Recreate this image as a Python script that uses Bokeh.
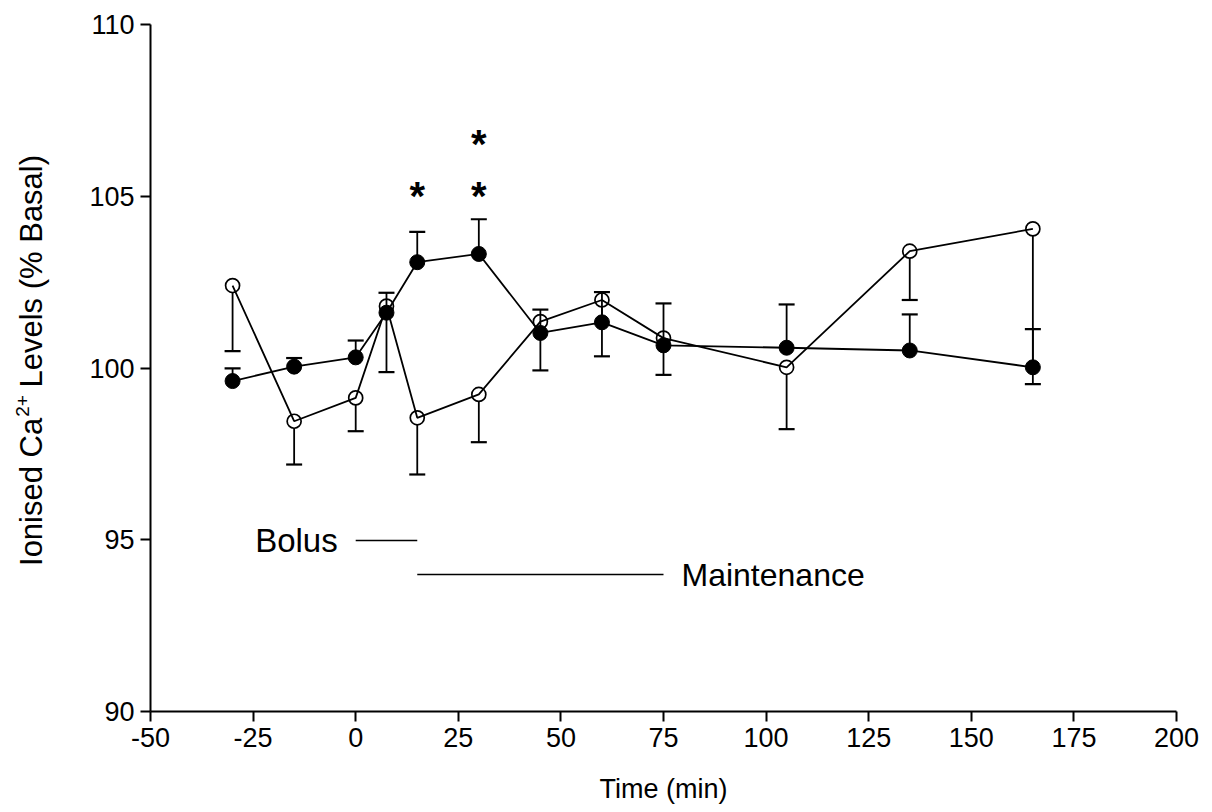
import math
from bokeh.plotting import figure
from bokeh.layouts import row
from bokeh.models import Range1d, FixedTicker
from bokeh.core.properties import value
from bokeh.embed import file_html
from bokeh.resources import INLINE

# ---------------- data ----------------
time_min = [-30, -15, 0, 7.5, 15, 30, 45, 60, 75, 105, 135, 165]
open_mean = [102.40, 98.45, 99.13, 101.80, 98.55, 99.23, 101.35, 101.98, 100.87, 100.02, 103.40, 104.05]
open_err_down = [1.91, 1.26, 0.97, 1.92, 1.65, 1.39, 1.42, 1.64, 1.07, 1.80, 1.42, 4.52]
filled_mean = [99.62, 100.04, 100.31, 101.61, 103.08, 103.32, 101.02, 101.33, 100.66, 100.59, 100.51, 100.02]
filled_err_up = [0.37, 0.25, 0.49, 0.58, 0.88, 1.01, 0.68, 0.88, 1.22, 1.26, 1.05, 1.11]

x_ticks = [-50, -25, 0, 25, 50, 75, 100, 125, 150, 175, 200]
y_ticks = [90, 95, 100, 105, 110]

star_times = [15, 30, 30]
bolus_period = [0, 15]
maintenance_period = [15, 75]

# ---------------- layout ----------------
W, H = 1212, 812
LW = 80                      # width of the strip holding the y title
FL, FR, FT, FB = 150, 1176, 24, 711
X0, X1 = -50, 200
Y0, Y1 = 90, 110
FONT = "Liberation Sans"


def px2y(py):
    return Y1 - (py - FT) / (FB - FT) * (Y1 - Y0)


p = figure(width=W - LW, height=H, x_range=Range1d(X0, X1), y_range=Range1d(Y0, Y1),
           output_backend="svg", toolbar_location=None, title=None,
           min_border_left=FL - LW, min_border_right=W - FR,
           min_border_top=FT, min_border_bottom=H - FB)
p.outline_line_color = None
p.background_fill_color = "white"
p.border_fill_color = "white"
p.xgrid.visible = False
p.ygrid.visible = False

for ax, ticks in ((p.xaxis, x_ticks), (p.yaxis, y_ticks)):
    ax.ticker = FixedTicker(ticks=ticks)
    ax.major_label_overrides = {t: str(t) for t in ticks}
    ax.major_label_text_font = FONT
    ax.major_label_text_font_size = "27px"
    ax.major_label_text_color = "black"
    ax.axis_line_color = "black"
    ax.axis_line_width = 2
    ax.major_tick_line_color = "black"
    ax.major_tick_line_width = 2
    ax.major_tick_out = 10
    ax.major_tick_in = 0
    ax.minor_tick_out = 0
    ax.minor_tick_in = 0
    ax.major_label_standoff = 6

p.xaxis.axis_label = "Time (min)"
p.xaxis.axis_label_text_font = FONT
p.xaxis.axis_label_text_font_size = "27px"
p.xaxis.axis_label_text_font_style = "normal"
p.xaxis.axis_label_text_color = "black"
p.xaxis.axis_label_standoff = 24

LWID = 1.8
# ---------------- open series ----------------
open_lo = [m - e for m, e in zip(open_mean, open_err_down)]
p.segment(x0=time_min, y0=open_mean, x1=time_min, y1=open_lo, line_color="black", line_width=LWID)
p.scatter(time_min, open_lo, marker="dash", size=16, line_color="black", line_width=2.2)
p.scatter(time_min, open_mean, marker="circle", size=14, fill_color="white",
          line_color="black", line_width=1.7)
p.line(time_min, open_mean, line_color="black", line_width=LWID)

# ---------------- filled series ----------------
filled_hi = [m + e for m, e in zip(filled_mean, filled_err_up)]
p.segment(x0=time_min, y0=filled_mean, x1=time_min, y1=filled_hi, line_color="black", line_width=LWID)
p.scatter(time_min, filled_hi, marker="dash", size=16, line_color="black", line_width=2.2)
p.line(time_min, filled_mean, line_color="black", line_width=LWID)
p.scatter(time_min, filled_mean, marker="circle", size=15, fill_color="black",
          line_color="black", line_width=1)

# ---------------- significance stars ----------------
star_levels = [px2y(192), px2y(192), px2y(140)]
p.text(x=star_times, y=star_levels, text=["*"] * len(star_times),
       text_font=value(FONT), text_font_style="bold", text_font_size="40px",
       text_align="center", text_baseline="alphabetic", y_offset=3, text_color="black")

# ---------------- infusion periods ----------------
bolus_y = px2y(540)
maint_y = px2y(574)
p.segment(x0=[bolus_period[0]], y0=[bolus_y], x1=[bolus_period[1]], y1=[bolus_y],
          line_color="black", line_width=1.6)
p.segment(x0=[maintenance_period[0]], y0=[maint_y], x1=[maintenance_period[1]], y1=[maint_y],
          line_color="black", line_width=1.6)
p.text(x=[bolus_period[0]], y=[bolus_y], text=["Bolus"], x_offset=-18,
       text_font=value(FONT), text_font_size="33px", text_align="right",
       text_baseline="middle", text_color="black")
p.text(x=[maintenance_period[1]], y=[maint_y], text=["Maintenance"], x_offset=18,
       text_font=value(FONT), text_font_size="32px", text_align="left",
       text_baseline="middle", text_color="black")

# ---------------- y title strip (superscript composed from pieces) ----------------
q = figure(frame_width=LW, frame_height=H, x_range=Range1d(0, LW), y_range=Range1d(0, H),
           output_backend="svg", toolbar_location=None, title=None,
           x_axis_location=None, y_axis_location=None,
           min_border_left=0, min_border_right=0, min_border_top=0, min_border_bottom=0)
q.outline_line_color = None
q.xgrid.visible = False
q.ygrid.visible = False
q.background_fill_color = "white"
q.border_fill_color = "white"

ysize, supsize = 31, 19
w_main = 4.78 * ysize
w_sup = 1.14 * supsize
w_space = 0.278 * ysize
w_rest = 7.50 * ysize
total = w_main + w_sup + w_space + w_rest
centre = 336
start = centre + total / 2
base_x = 31
pieces = [
    ("Ionised Ca", base_x, start, ysize),
    ("2+", base_x - 9, start - w_main - 1, supsize),
    ("Levels (% Basal)", base_x, start - w_main - w_sup - w_space, ysize),
]
for txt, bx, sy, fs in pieces:
    q.text(x=[bx], y=[H - sy], text=[txt], angle=math.pi / 2,
           text_font=value(FONT), text_font_size=f"{fs}px", text_align="left",
           text_baseline="alphabetic", text_color="black")

layout = row(q, p, spacing=0)
open("out.html", "w").write(file_html(layout, INLINE))
